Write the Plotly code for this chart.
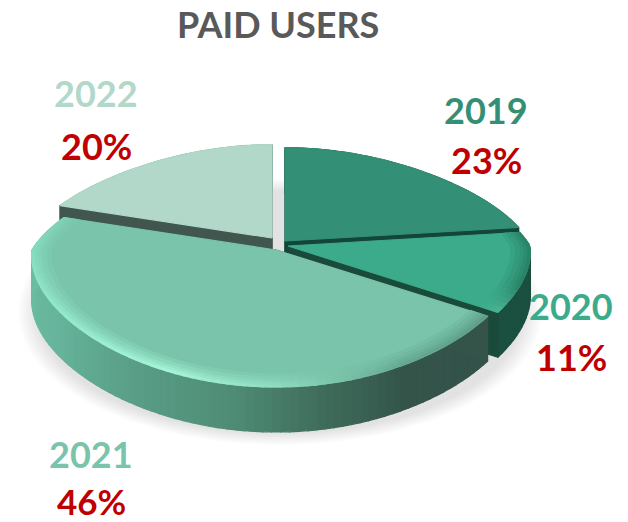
import math
import plotly.graph_objects as go

title = "PAID USERS"
years = ["2019", "2020", "2021", "2022"]
shares = [23, 11, 46, 20]
top_colors = ["#338f75", "#3bab8b", "#79c4aa", "#b2d8ca"]
label_colors = ["#338f75", "#3bab8b", "#79c4aa", "#b2d8ca"]
pct_color = "#c00000"
apex_px = [(285, 241), (288, 246), (276, 250), (272, 238)]
radius_x = [244, 242, 244, 244]
wall_colors = ["#14453a", "#1a4a3a", "#34544a", "#40564e"]
label_px = [(486, 110, 160), (571, 306, 357), (91, 454, 501), (96, 93, 146)]
pct_sizes = [36, 36, 35, 36]

RY, PY, DEPTH = 111, 0.19, 45


def hex2(c):
    return [int(c[i:i + 2], 16) for i in (1, 3, 5)]


def mix(a, b, t):
    a, b = hex2(a), hex2(b)
    return "#%02x%02x%02x" % tuple(round(a[i] + (b[i] - a[i]) * t) for i in range(3))


def ramp(stops, a):
    if a <= stops[0][0]:
        return stops[0][1]
    for (a0, c0), (a1, c1) in zip(stops, stops[1:]):
        if a <= a1:
            return mix(c0, c1, (a - a0) / (a1 - a0))
    return stops[-1][1]


fig = go.Figure()


def poly(xs, ys, color, opacity=1.0):
    fig.add_trace(go.Scatter(x=list(xs) + [xs[0]], y=list(ys) + [ys[0]], mode="lines", fill="toself",
                             fillcolor=color, line=dict(color=color, width=1.2 if opacity == 1 else 0),
                             opacity=opacity, hoverinfo="skip", showlegend=False))


def pt(i, angle, r=1.0, drop=0.0):
    ax, ay = apex_px[i]
    u, v = r * math.sin(math.radians(angle)), r * math.cos(math.radians(angle))
    sx = 1 - 0.28 * v if v > 0 else 1 - 0.05 * v
    sy = 1 / (1 + PY * v)
    return ax + radius_x[i] * u * sx, ay - RY * v * sy + drop


# angular extents come from the shares
bounds, acc = [], 0
for s in shares:
    bounds.append((acc * 3.6, (acc + s) * 3.6))
    acc += s

# soft floor shadow
for k in range(10):
    g = 1 - k / 10
    n = 90
    xs = [280 + (240 + 22 * g) * math.cos(2 * math.pi * j / n) for j in range(n)]
    ys = [312 + (120 + 13 * g) * math.sin(2 * math.pi * j / n) for j in range(n)]
    poly(xs, ys, "#a8a8a8", 0.04)

side_ramps = {
    0: [(0, "#1c5a48"), (90, "#1c5a48")],
    1: [(80, "#1b4f3f"), (125, "#1b4f3f")],
    2: [(122, "#33524a"), (150, "#34544a"), (170, "#3f6d5c"), (190, "#4f8c75"), (215, "#5a9f88"),
        (240, "#66b49b"), (270, "#6cbda2"), (288, "#6cbda2")],
    3: [(288, "#6cbda2"), (360, "#6cbda2")],
}
rim_ramps = {
    1: [(82, "#2a8468"), (110, "#2a8468"), (122.4, "#4cb595")],
    2: [(122, "#5f9e8a"), (150, "#66a892"), (180, "#8fdcc0"), (205, "#a5f5d8"), (270, "#85dcc0"), (288, "#7fd0b5")],
}


def wedge(i):
    a0, a1 = bounds[i]
    n = max(4, int((a1 - a0) / 2))
    angs = [a0 + (a1 - a0) * j / n for j in range(n + 1)]
    ax, ay = apex_px[i]
    # outer wall
    for a, b in zip(angs, angs[1:]):
        p, q = pt(i, a), pt(i, b)
        pb, qb = pt(i, a, drop=DEPTH), pt(i, b, drop=DEPTH)
        poly([p[0], q[0], qb[0], pb[0]], [p[1], q[1], qb[1], pb[1]], ramp(side_ramps[i], (a + b) / 2))
    # cut walls
    for a in (a0, a1):
        x, y = pt(i, a)
        xb, yb = pt(i, a, drop=DEPTH)
        poly([ax, x, xb, ax], [ay, y, yb, ay + DEPTH], wall_colors[i])
    # top face
    arc = [pt(i, a) for a in angs]
    poly([ax] + [p[0] for p in arc], [ay] + [p[1] for p in arc], top_colors[i])
    # bevelled rim
    if i in rim_ramps:
        rings = [0.92, 0.94, 0.96, 0.975, 0.99, 1.0]
        for k, (r0, r1) in enumerate(zip(rings, rings[1:])):
            t = (k + 1) / (len(rings) - 1)
            for a, b in zip(angs, angs[1:]):
                c = mix(top_colors[i], ramp(rim_ramps[i], (a + b) / 2), t)
                p, q, s, w = pt(i, a, r0), pt(i, b, r0), pt(i, b, r1), pt(i, a, r1)
                poly([p[0], q[0], s[0], w[0]], [p[1], q[1], s[1], w[1]], c)


for i in (3, 0, 1):
    wedge(i)
# the front slice hides its own cut walls, so its outer wall goes last over them
wedge(2)

ann = [dict(text=f"<b>{title}</b>", x=278, y=24, font=dict(size=36, color="#595959"))]
for yr, sh, col, (lx, ly, py), ps in zip(years, shares, label_colors, label_px, pct_sizes):
    ann.append(dict(text=f"<b>{yr}</b>", x=lx, y=ly, font=dict(size=36, color=col)))
    ann.append(dict(text=f"<b>{sh}%</b>", x=lx, y=py, font=dict(size=ps, color=pct_color)))
for a in ann:
    a.update(xref="x", yref="y", showarrow=False, xanchor="center", yanchor="middle")
    a["font"]["family"] = "Lato"

fig.update_layout(width=628, height=522, margin=dict(l=0, r=0, t=0, b=0), paper_bgcolor="white",
                  plot_bgcolor="white", annotations=ann, showlegend=False,
                  xaxis=dict(range=[0, 628], visible=False, fixedrange=True),
                  yaxis=dict(range=[522, 0], visible=False, fixedrange=True))
fig.write_html("out.html", config={"displayModeBar": False}, post_script="document.body.style.margin='0';")
